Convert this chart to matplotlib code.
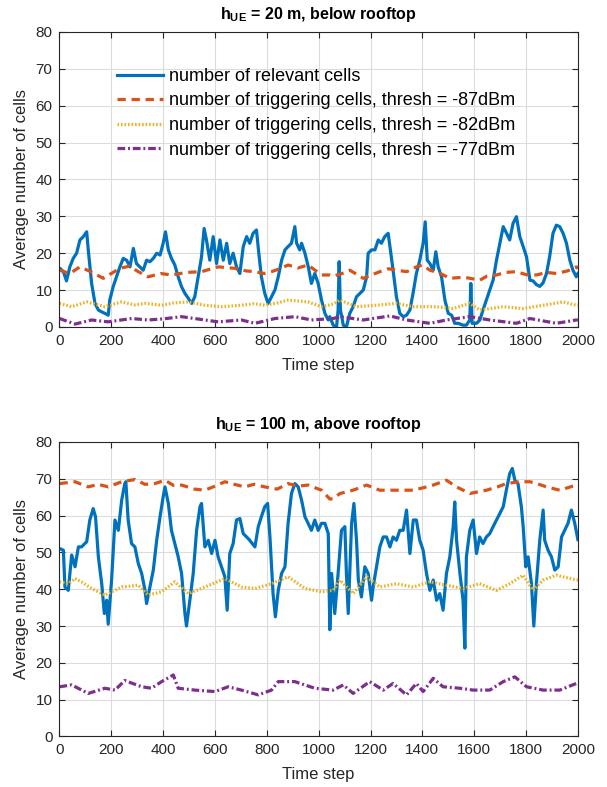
import numpy as np
import matplotlib
matplotlib.use('Agg')
import matplotlib.pyplot as plt

plt.rcParams['font.family'] = ['Liberation Sans', 'DejaVu Sans']
plt.rcParams['mathtext.fontset'] = 'custom'
plt.rcParams['mathtext.rm'] = 'Liberation Sans'
plt.rcParams['mathtext.bf'] = 'Liberation Sans:bold'

# ---- top panel: h_UE = 20 m ----
t_rel_20 = [0, 2, 15, 27, 40, 53, 66, 79, 92, 105, 111, 124, 137, 150, 163, 175, 188, 194, 207, 220,
            233, 246, 259, 272, 285, 297, 310, 323, 336, 349, 362, 375, 388, 400, 409, 420, 432, 445,
            458, 471, 484, 497, 510, 522, 535, 548, 558, 567, 580, 593, 606, 619, 632, 645, 657, 670,
            683, 696, 709, 722, 734, 747, 760, 769, 779, 792, 805, 818, 831, 844, 857, 870, 882, 895,
            908, 915, 927, 934, 947, 960, 972, 985, 998, 1011, 1024, 1037, 1043, 1056, 1069, 1075,
            1079, 1084, 1095, 1107, 1120, 1133, 1146, 1159, 1172, 1185, 1191, 1204, 1217, 1230, 1242,
            1255, 1268, 1275, 1287, 1300, 1313, 1326, 1339, 1352, 1364, 1377, 1390, 1403, 1411, 1419,
            1429, 1442, 1452, 1461, 1474, 1487, 1500, 1513, 1525, 1538, 1557, 1570, 1583, 1587, 1592,
            1609, 1622, 1634, 1647, 1660, 1673, 1686, 1699, 1712, 1725, 1737, 1750, 1763, 1776, 1789,
            1802, 1815, 1827, 1840, 1853, 1866, 1879, 1891, 1904, 1917, 1930, 1943, 1956, 1969, 1981,
            1994, 2000]
rel_20 = [15.5, 15.9, 15, 12.5, 16.3, 18.6, 20, 23.6, 24.5, 25.8, 20.9, 11.8, 6.4, 4.6, 4.1, 3.7, 3.2,
          7.3, 10.9, 13.6, 16.3, 18.6, 18.1, 16.3, 21.3, 17.2, 16.3, 15.4, 18.1, 17.7, 18.6, 20, 19.5,
          22.7, 25.8, 20.9, 18.6, 16.8, 13.6, 10.9, 9.1, 7.8, 6.4, 8.2, 13.6, 19, 26.7, 23.6, 18.1,
          24.5, 17.2, 23.6, 18.1, 22.7, 17.2, 20, 16.3, 14.5, 21.8, 24.5, 22.7, 25.4, 26.3, 20, 13.6,
          9.1, 6.4, 8.2, 10, 13.6, 18.1, 20.9, 21.8, 22.7, 27.2, 22.7, 20.9, 22.7, 20, 16.3, 11.8,
          14.5, 11.8, 7.3, 3.7, 1.9, 2.8, 0.5, 0, 4.6, 17.7, 4.6, 0.5, 0, 3.7, 5.5, 8.2, 9.1, 10,
          13.6, 20, 20.9, 20.9, 23.6, 22.7, 24.5, 25.4, 21.8, 15.4, 8.2, 3.7, 2.8, 3.2, 4.6, 9.1,
          14.5, 18.1, 22.7, 28.5, 18.1, 17.2, 15.4, 20.4, 16.3, 13.6, 7.3, 3.7, 3.2, 1, 1, 0.5, 0.5,
          1.9, 11.8, 1, 1, 1.9, 4.6, 7.3, 10, 12.7, 18.1, 22.7, 27.2, 25.4, 23.6, 28.1, 29.9, 24.5,
          21.8, 19, 12.7, 12.5, 11.5, 11, 12, 14.5, 19, 25.4, 27.6, 27.2, 25.4, 22.7, 18.1, 15.4,
          13.6, 14.5]

t_87_20 = [0, 40, 79, 120, 169, 200, 233, 270, 304, 342, 390, 432, 490, 548, 612, 677, 720, 754, 790,
           818, 850, 882, 920, 959, 1011, 1043, 1056, 1090, 1120, 1172, 1200, 1236, 1270, 1300, 1340,
           1377, 1400, 1429, 1470, 1506, 1560, 1622, 1650, 1686, 1720, 1763, 1800, 1840, 1880, 1917,
           1960, 1994, 2000]
trig_87_20 = [15.4, 14.5, 16.3, 15, 13.2, 14.5, 15.9, 16.5, 15, 13.6, 14.5, 14.1, 14.8, 15, 16.3,
              15.9, 15.2, 15, 14.5, 15, 15.8, 16.8, 16, 16.8, 14.1, 14.1, 13.8, 14.5, 15.4, 13.2, 14,
              15, 15.8, 15.4, 15, 16.3, 16.8, 15.4, 14.5, 13.2, 13.5, 12.7, 13.8, 14.1, 14.8, 15, 14.2,
              14.1, 14.8, 14.5, 15.2, 16.3, 15.8]

t_82_20 = [0, 47, 105, 175, 240, 290, 330, 394, 440, 497, 561, 625, 702, 750, 792, 840, 882, 959,
           1011, 1056, 1082, 1146, 1223, 1300, 1365, 1455, 1519, 1583, 1622, 1712, 1789, 1866, 1943,
           1994, 2000]
trig_82_20 = [6.4, 5.5, 6.8, 5.5, 6.8, 6, 6.4, 5.9, 6.5, 6.8, 5.9, 5.5, 5.9, 6.3, 5.9, 6.5, 7.3, 6.8,
              5.5, 6.2, 7.3, 5.5, 5.9, 6.4, 5.5, 5.5, 5.0, 6.4, 4.6, 5.5, 5.0, 5.9, 6.8, 5.9, 6.0]

t_77_20 = [0, 60, 124, 188, 278, 342, 400, 471, 561, 612, 702, 754, 831, 908, 972, 1056, 1082, 1172,
           1275, 1339, 1429, 1493, 1583, 1660, 1763, 1815, 1917, 1994, 2000]
trig_77_20 = [2.3, 0.8, 1.9, 1.4, 2.3, 1.9, 2.2, 2.8, 1.9, 1.4, 1.9, 1.0, 2.3, 2.8, 1.9, 2.3, 2.8,
              1.9, 3.0, 1.9, 1.0, 1.9, 2.8, 1.9, 1.0, 2.3, 1.0, 1.9, 1.9]

# ---- bottom panel: h_UE = 100 m ----
t_rel_100 = [0, 2, 15, 21, 34, 47, 60, 73, 85, 105, 117, 130, 139, 150, 163, 173, 182, 188, 201, 214,
             227, 240, 252, 256, 265, 278, 291, 304, 317, 330, 336, 349, 362, 375, 388, 400, 407, 420,
             432, 445, 458, 471, 484, 490, 503, 516, 529, 542, 548, 561, 574, 587, 600, 612, 625, 638,
             647, 657, 670, 683, 696, 709, 722, 734, 754, 767, 779, 792, 803, 812, 824, 833, 844, 857,
             870, 882, 895, 908, 921, 934, 947, 959, 972, 985, 998, 1011, 1024, 1037, 1043, 1050,
             1062, 1075, 1088, 1101, 1107, 1114, 1127, 1136, 1146, 1153, 1165, 1178, 1191, 1204, 1210,
             1223, 1236, 1249, 1262, 1275, 1287, 1300, 1313, 1326, 1339, 1352, 1365, 1377, 1390, 1403,
             1416, 1429, 1442, 1455, 1467, 1480, 1493, 1506, 1519, 1525, 1532, 1545, 1557, 1564, 1570,
             1583, 1596, 1609, 1621, 1634, 1647, 1660, 1673, 1686, 1699, 1712, 1724, 1737, 1747, 1757,
             1769, 1782, 1789, 1799, 1808, 1821, 1830, 1840, 1853, 1866, 1872, 1885, 1898, 1911, 1924,
             1937, 1949, 1962, 1975, 1988, 2000]
rel_100 = [51, 51, 50.6, 40.6, 39.7, 49.3, 46.1, 51.5, 51.5, 52.9, 58.8, 61.9, 59.7, 48.8, 41.5, 33.4,
           37, 30.5, 42.5, 58.8, 56, 64.2, 68.7, 69.2, 58.8, 52.4, 51.5, 47, 44.3, 39.7, 36.1, 40.6,
           45.2, 53.3, 59.7, 65.1, 67.8, 63.3, 56, 52.4, 48.8, 44.3, 33.4, 30, 37, 44.3, 56, 62.4, 63.3,
           51.5, 53.3, 49.7, 53.3, 48.8, 46.1, 43.4, 34.3, 49.7, 52.4, 58.8, 59.2, 55.1, 54.2, 53.3,
           51.5, 57, 59.7, 62.4, 63.3, 54.2, 38.8, 32.5, 39.7, 44.3, 46.1, 57.9, 66, 68.7, 67.8, 64.2,
           59.7, 57.9, 56, 58.8, 56, 57.9, 57.9, 55.1, 29, 44.3, 33.4, 44.3, 56, 57, 44.3, 33.4, 57.9,
           63.3, 53.3, 42.5, 37.9, 46.1, 44.3, 37, 40.6, 46.1, 51.5, 54.2, 54.2, 51.5, 54.2, 53.3, 56,
           56, 61.5, 49.7, 58.8, 58.8, 53.3, 50.6, 44.3, 39.7, 42.5, 37, 38.8, 34.3, 44.3, 48.8, 57,
           63.7, 53.3, 44.3, 37, 24, 48.8, 56, 58.8, 49.7, 54.2, 52.4, 54.2, 55.1, 57, 58.8, 60.6,
           62.4, 66.9, 71.4, 72.8, 69.6, 68.7, 62.4, 57, 46.1, 48.8, 41.5, 30, 41.5, 53.3, 61.5, 53.3,
           50.6, 48.8, 45.2, 46.1, 54.2, 56, 57.9, 61.5, 57.9, 53.5]

t_87_100 = [0, 60, 111, 150, 188, 240, 291, 330, 368, 407, 440, 471, 520, 561, 600, 638, 680, 715,
            750, 792, 840, 882, 920, 959, 1011, 1043, 1056, 1082, 1133, 1185, 1236, 1300, 1365, 1400,
            1442, 1493, 1532, 1583, 1647, 1690, 1724, 1776, 1815, 1850, 1879, 1930, 1994, 2000]
trig_87_100 = [68.7, 69.2, 67.8, 68.5, 67.8, 69.2, 69.8, 68.5, 68.7, 69.6, 68.2, 68.3, 67.2, 66.9,
               68, 69.2, 68.4, 67.8, 68.5, 67.8, 67.2, 68.7, 68, 68.3, 66.9, 64.5, 64.6, 66, 66.9,
               68.3, 66.9, 66.9, 66.9, 67.5, 68.3, 69.6, 67.8, 66, 66.9, 67.8, 68.7, 69.2, 69.2,
               68.5, 67.8, 66.9, 68.3, 68]

t_82_100 = [0, 34, 60, 85, 124, 175, 240, 304, 342, 394, 445, 497, 561, 638, 702, 754, 818, 882, 947,
            1011, 1056, 1082, 1133, 1185, 1236, 1300, 1365, 1429, 1493, 1557, 1621, 1686, 1737, 1789,
            1827, 1866, 1917, 1994, 2000]
trig_82_100 = [42, 41.5, 42.9, 42, 40.2, 38.4, 40.6, 41.1, 38.4, 39.3, 42, 38.8, 40.6, 42.9, 40.6,
               40.2, 41.5, 43.4, 40.2, 39.3, 39.7, 42.5, 38.8, 43.4, 40.6, 41.5, 40.6, 42, 41.1, 40.2,
               41.5, 39.7, 41.5, 43.8, 39.7, 42.5, 43.8, 42.5, 42.5]

t_77_100 = [0, 47, 111, 175, 214, 252, 317, 355, 394, 439, 458, 522, 600, 651, 702, 767, 818, 844,
            908, 985, 1056, 1095, 1133, 1197, 1249, 1287, 1339, 1377, 1403, 1442, 1480, 1545, 1596,
            1660, 1712, 1757, 1802, 1866, 1930, 1994, 2000]
trig_77_100 = [13.5, 14, 11.7, 13.1, 12.6, 15.2, 13.5, 13.1, 14.9, 16.7, 13.1, 12.6, 12.2, 13.5,
               12.6, 11.3, 12.6, 14.9, 14.9, 13.1, 12.6, 14, 11.7, 14.9, 12.6, 14.4, 11.3, 14.4, 12.2,
               15.8, 13.5, 13.1, 12.6, 12.6, 14.9, 16.2, 13.5, 12.6, 12.6, 14.4, 14.2]

legend_labels = ['number of relevant cells',
                 'number of triggering cells, thresh = -87dBm',
                 'number of triggering cells, thresh = -82dBm',
                 'number of triggering cells, thresh = -77dBm']

c_blue = '#0072BD'
c_orange = '#D95319'
c_yellow = '#EDB120'
c_purple = '#7E2F8E'

dash_87 = (2.6, 1.8)
dot_82 = (0.5, 0.6)
dash_77 = (2.4, 0.9, 0.6, 0.9)


def setup_axes(ax, title):
    ax.set_xlim(0, 2000)
    ax.set_ylim(0, 80)
    ax.set_xticks(np.arange(0, 2001, 200))
    ax.set_yticks(np.arange(0, 81, 10))
    ax.grid(True, color='#dcdcdc', linewidth=0.8)
    ax.set_axisbelow(True)
    ax.tick_params(direction='in', top=True, right=True, length=4, labelsize=11, pad=5,
                   color='#262626', labelcolor='#262626', width=0.8)
    for s in ax.spines.values():
        s.set_color('#262626')
        s.set_linewidth(0.8)
    ax.set_xlabel('Time step', fontsize=12, color='#262626', labelpad=7)
    ax.set_ylabel('Average number of cells', fontsize=12, color='#262626', labelpad=5)
    ax.set_title(title, fontsize=11.5, fontweight='bold', pad=9)


def draw_panel(ax, t_rel, rel, t87, v87, t82, v82, t77, v77, labels):
    ax.plot(t_rel, rel, color=c_blue, lw=2.3, label=labels[0])
    ax.plot(t87, v87, color=c_orange, lw=2.3, dashes=dash_87, label=labels[1])
    ax.plot(t82, v82, color=c_yellow, lw=2.3, dashes=dot_82, label=labels[2])
    ax.plot(t77, v77, color=c_purple, lw=2.3, dashes=dash_77, label=labels[3])


fig = plt.figure(figsize=(6.07, 7.87), dpi=100)
ax1 = fig.add_axes([0.098, 0.5845, 0.854, 0.375])
ax2 = fig.add_axes([0.098, 0.0642, 0.854, 0.3742])

draw_panel(ax1, t_rel_20, rel_20, t_87_20, trig_87_20, t_82_20, trig_82_20,
           t_77_20, trig_77_20, legend_labels)
setup_axes(ax1, r'$\mathbf{h_{UE}}$ = 20 m, below rooftop')
ax1.legend(loc='upper left', bbox_to_anchor=(0.11, 0.878), frameon=False, fontsize=13,
           handlelength=2.6, handletextpad=0.3, labelspacing=0.42, borderpad=0, borderaxespad=0)

draw_panel(ax2, t_rel_100, rel_100, t_87_100, trig_87_100, t_82_100, trig_82_100,
           t_77_100, trig_77_100, [None] * 4)
setup_axes(ax2, r'$\mathbf{h_{UE}}$ = 100 m, above rooftop')

fig.savefig('out.png', dpi=100)
